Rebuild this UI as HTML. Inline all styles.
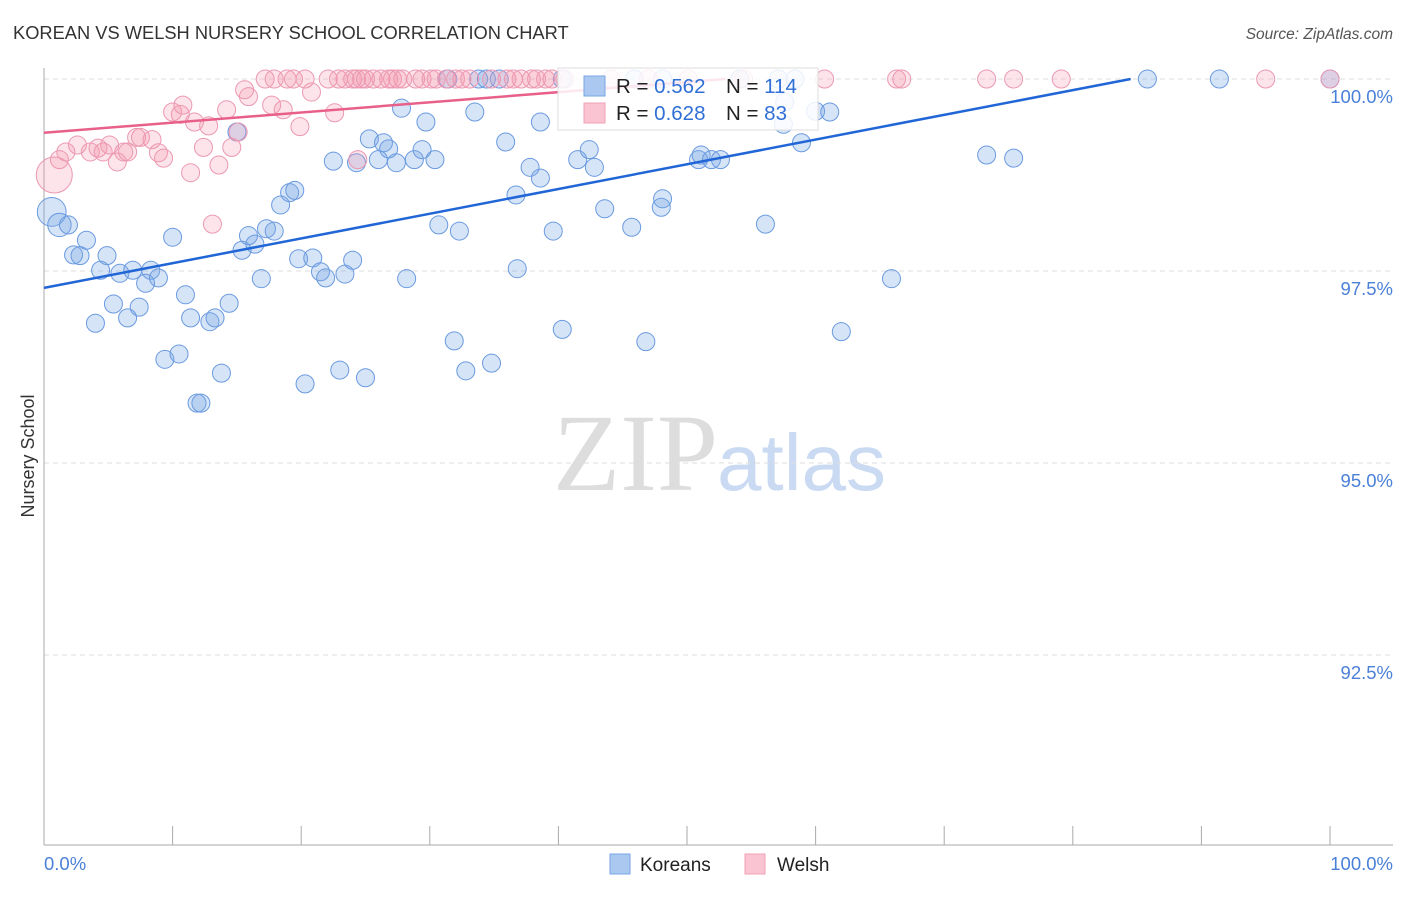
<!DOCTYPE html>
<html><head><meta charset="utf-8"><style>
body{margin:0;background:#fff;width:1406px;height:892px;overflow:hidden;font-family:"Liberation Sans",sans-serif}
</style></head><body>
<svg id="chart" width="1406" height="892" xmlns="http://www.w3.org/2000/svg" font-family="Liberation Sans, sans-serif">
<text x="13" y="39" font-size="18.3" fill="#333">KOREAN VS WELSH NURSERY SCHOOL CORRELATION CHART</text>
<text x="1393" y="39" font-size="15.5" fill="#555" text-anchor="end" font-style="italic">Source: ZipAtlas.com</text>
<g>
<text x="553" y="490" font-size="110" fill="#ddd" font-family="Liberation Serif, serif">ZIP</text>
<text x="717" y="490" font-size="80" fill="#c9daf2">atlas</text>
</g>
<text transform="translate(34,456) rotate(-90)" font-size="18" fill="#333" text-anchor="middle">Nursery School</text>
<g id="grid"></g><g id="marks"></g><g id="lines"></g>
<g>
<rect x="558" y="68" width="260" height="62" fill="#fff" fill-opacity="0.85" stroke="#ddd"/>
<rect x="584" y="76" width="21" height="20" fill="#aac8f0" stroke="#7aa6e6"/>
<rect x="584" y="103" width="21" height="20" fill="#fac4d2" stroke="#f0a0b8"/>
<text x="616" y="93" font-size="20.5" fill="#222">R = <tspan fill="#2f6fd6">0.562</tspan></text>
<text x="726" y="93" font-size="20.5" fill="#222">N = <tspan fill="#2f6fd6">114</tspan></text>
<text x="616" y="120" font-size="20.5" fill="#222">R = <tspan fill="#2f6fd6">0.628</tspan></text>
<text x="726" y="120" font-size="20.5" fill="#222">N = <tspan fill="#2f6fd6"> 83</tspan></text>
</g>
<g>
<rect x="610" y="854" width="20" height="20" fill="#aac8f0" stroke="#7aa6e6"/>
<text x="640" y="871" font-size="19" fill="#222">Koreans</text>
<rect x="745" y="854" width="20" height="20" fill="#fac4d2" stroke="#f0a0b8"/>
<text x="777" y="871" font-size="19" fill="#222">Welsh</text>
</g>
</svg>
<script>
const yTicks=[100,97.5,95,92.5];
const yTickLabels=["100.0%","97.5%","95.0%","92.5%"];
const xTicks=[0,10,20,30,40,50,60,70,80,90,100];
const blueX=[0.6,1.2,1.9,3.3,2.3,2.8,4.9,4.4,5.9,6.9,8.3,7.9,8.9,10.0,11.0,5.4,7.4,4.0,6.5,11.4,12.9,13.3,14.4,9.4,10.5,13.8,11.9,12.2,15.4,15.9,16.4,16.9,17.3,17.9,18.4,19.1,19.5,15.0,19.8,20.9,21.5,21.9,23.4,24.0,28.2,22.5,24.3,25.3,26.4,26.8,26.0,27.4,27.8,28.8,29.4,29.7,30.4,30.7,32.3,33.5,35.9,36.7,37.8,38.6,39.6,38.6,36.8,31.9,32.8,34.8,40.3,41.5,42.4,42.8,43.6,45.7,46.8,48.0,48.1,50.9,51.1,51.9,52.6,56.1,57.5,58.9,60.0,61.1,62.0,65.9,73.3,75.4,20.3,23.0,25.0,85.8,91.4,100,31.4,33.8,34.4,35.4,40.3,45.9,48.1,54.1,57.1,58.4,57.6];
const blueY=[98.27,98.10,98.10,97.90,97.71,97.70,97.70,97.51,97.47,97.51,97.51,97.34,97.41,97.94,97.19,97.07,97.03,96.82,96.89,96.89,96.84,96.89,97.08,96.35,96.42,96.17,95.78,95.78,97.77,97.96,97.85,97.40,98.05,98.02,98.36,98.52,98.55,99.31,97.66,97.67,97.49,97.41,97.46,97.64,97.40,98.93,98.91,99.22,99.17,99.09,98.95,98.91,99.62,98.95,99.08,99.44,98.95,98.10,98.02,99.57,99.18,98.49,98.85,98.71,98.02,99.44,97.53,96.59,96.20,96.30,96.74,98.95,99.08,98.85,98.31,98.07,96.58,98.33,98.44,98.95,99.01,98.95,98.95,98.11,99.41,99.17,99.58,99.57,96.71,97.40,99.01,98.97,96.03,96.21,96.11,100,100,100,100,100,100,100,100,100,100,100,100,100,99.70];
const blueSize=[1.6,1.3];
const pinkX=[0.8,1.2,1.7,2.6,3.6,4.2,4.6,5.1,5.7,6.2,6.5,7.2,7.5,8.4,8.9,9.3,10.0,10.6,10.8,11.4,11.7,12.4,12.8,13.6,14.2,14.6,15.1,15.6,15.9,17.7,18.6,19.9,20.8,22.6,24.4,13.1,17.2,17.9,18.9,19.4,20.3,22.1,22.9,23.4,24.0,24.3,24.7,25.0,25.6,26.2,26.8,27.1,27.5,27.9,28.9,29.4,30.1,30.5,31.3,32.0,32.5,33.1,34.8,36.0,36.5,37.1,37.9,38.3,39.0,39.5,40.5,44.1,47.0,50.1,54.4,60.7,66.3,66.7,73.3,75.4,79.1,95.0,100];
const pinkY=[98.75,98.95,99.05,99.14,99.05,99.10,99.05,99.14,98.92,99.05,99.05,99.24,99.24,99.21,99.04,98.97,99.57,99.54,99.66,98.78,99.44,99.11,99.39,98.88,99.60,99.11,99.31,99.86,99.77,99.66,99.60,99.38,99.83,99.56,98.95,98.11,100,100,100,100,100,100,100,100,100,100,100,100,100,100,100,100,100,100,100,100,100,100,100,100,100,100,100,100,100,100,100,100,100,100,100,100,100,100,100,100,100,100,100,100,100,100,100];
const pinkSize=[2.0];
const blueLine=[[0,97.28],[84.5,100]];
const pinkLine=[[0,99.3],[53,100]];

const NS="http://www.w3.org/2000/svg";
const X=v=>44+v*12.86;
const Y=v=>79+(100-v)*76.8;
function mk(tag,attrs,parent){const e=document.createElementNS(NS,tag);for(const k in attrs)e.setAttribute(k,attrs[k]);parent.appendChild(e);return e;}
const grid=document.getElementById('grid'),marks=document.getElementById('marks'),lines=document.getElementById('lines');
yTicks.forEach((t,i)=>{
 const l=mk('line',{x1:44,x2:1393,y1:Y(t),y2:Y(t),stroke:'#ddd','stroke-dasharray':'5,4'},grid);
 
 
 const tx=mk('text',{x:1393,y:Y(t)+24,'font-size':18.5,fill:'#4a80d8','text-anchor':'end'},grid);
 tx.textContent=yTickLabels[i];
 
 
});
const ya=mk('line',{x1:44,x2:44,y1:68,y2:845,stroke:'#aaa'},grid);


const xa=mk('line',{x1:44,x2:1393,y1:845,y2:845,stroke:'#aaa'},grid);


xTicks.forEach(t=>{
 const l=mk('line',{x1:X(t),x2:X(t),y1:826,y2:845,stroke:'#aaa'},grid);
 
 
});
const xl0=mk('text',{x:44,y:870,'font-size':18.5,fill:'#4a80d8'},grid);xl0.textContent='0.0%';


const xl1=mk('text',{x:1393,y:870,'font-size':18.5,fill:'#4a80d8','text-anchor':'end'},grid);xl1.textContent='100.0%';


blueX.forEach((v,i)=>{
 const c=mk('circle',{cx:X(v),cy:Y(blueY[i]),r:9*(blueSize[i]||1),fill:'rgba(120,165,230,0.3)',stroke:'#6a9ae0','stroke-width':1},marks);
 
 
});
pinkX.forEach((v,i)=>{
 const c=mk('circle',{cx:X(v),cy:Y(pinkY[i]),r:9*(pinkSize[i]||1),fill:'rgba(245,150,175,0.26)',stroke:'#ec98b2','stroke-width':1},marks);
 
 
});
const bl=mk('line',{x1:X(blueLine[0][0]),y1:Y(blueLine[0][1]),x2:X(blueLine[1][0]),y2:Y(blueLine[1][1]),stroke:'#2166d6','stroke-width':2.5},lines);


const pl=mk('line',{x1:X(pinkLine[0][0]),y1:Y(pinkLine[0][1]),x2:X(pinkLine[1][0]),y2:Y(pinkLine[1][1]),stroke:'#e8608a','stroke-width':2.5},lines);


</script>
</body></html>
